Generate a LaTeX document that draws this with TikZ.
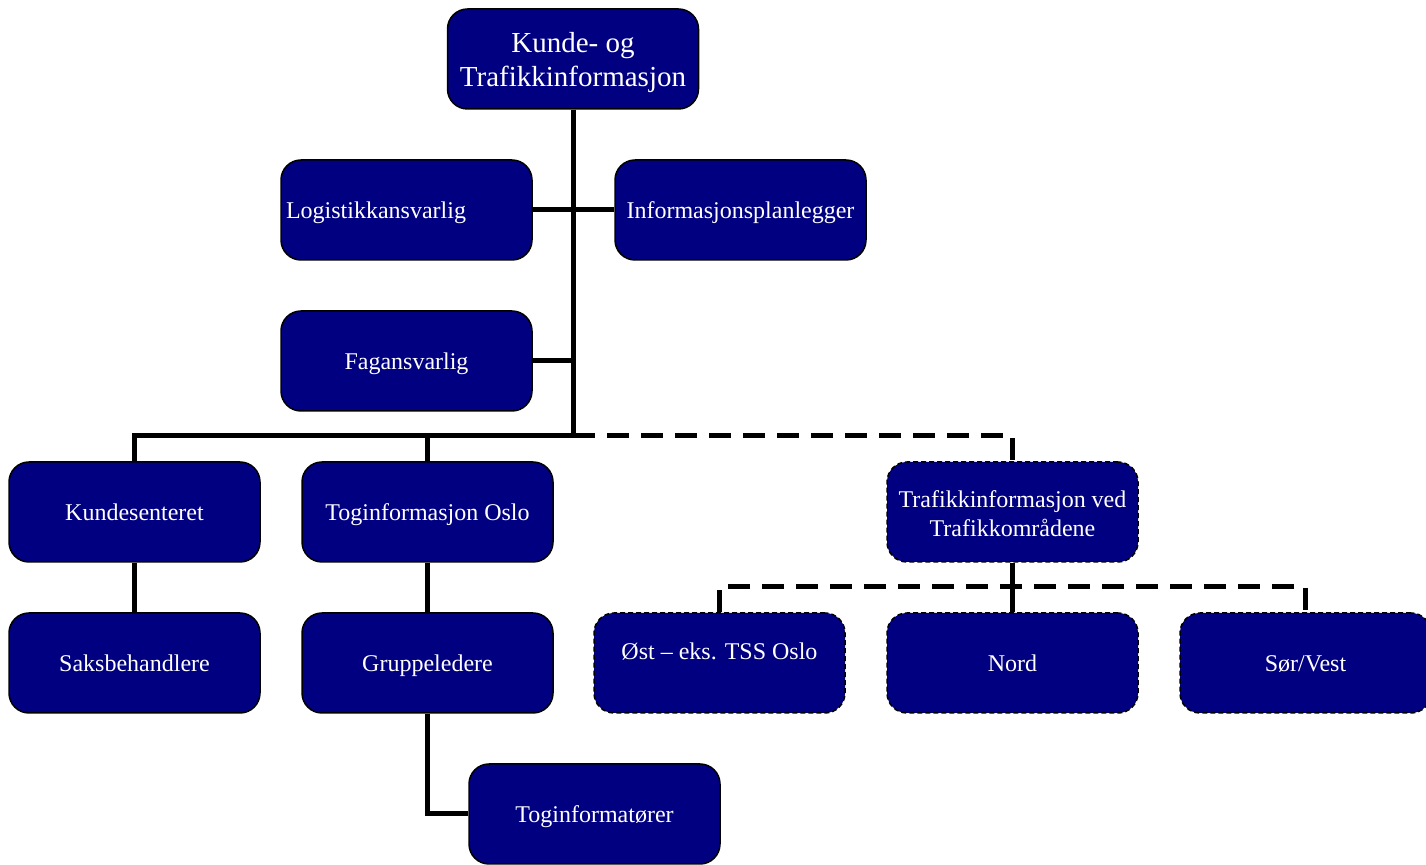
\documentclass[tikz,border=0pt]{standalone}
\usepackage{fontspec}
\setmainfont{Liberation Serif}
\usepackage{tikz}
\usetikzlibrary{positioning}

\definecolor{boxblue}{RGB}{0,0,128}

\tikzset{
	unit/.style={draw=black, line width=0.75pt, fill=boxblue, text=white, rounded corners=10pt,
		minimum width=125.5pt, minimum height=50pt, inner sep=2.5pt, font=\fontsize{12}{14.5}\selectfont, align=center},
	oneline/.style={text height=11pt, text depth=2.5pt},
	regional/.style={unit, dash pattern=on 2.5pt off 1.5pt},
	link/.style={line width=2.5pt},
	loose/.style={link, dash pattern=on 11pt off 6pt}
}

\begin{document}
\begin{tikzpicture}[x=0.5pt, y=-0.5pt]
	\useasboundingbox (0,0) rectangle (1426,865);
	\node[unit, font=\fontsize{14.5}{17.2}\selectfont] (top) at (573,59) {\rule{0pt}{13.6pt}Kunde- og\\Trafikkinformasjon};
	\node[unit, oneline, text width=120.5pt, align=left] (logi) at (406.5,210) {Logistikkansvarlig};
	\node[unit, oneline] (info) at (740.5,210) {Informasjonsplanlegger};
	\node[unit, oneline] (fag) at (406.5,361) {Fagansvarlig};
	\node[unit, oneline] (kunde) at (134.5,512) {Kundesenteret};
	\node[unit, oneline] (togosl) at (427.5,512) {Toginformasjon Oslo};
	\node[regional] (trafikk) at (1012.5,512) {\rule{0pt}{10.2pt}Trafikkinformasjon ved\\Trafikkområdene};
	\node[unit, oneline] (saks) at (134.5,663) {Saksbehandlere};
	\node[unit, oneline] (gruppe) at (427.5,663) {Gruppeledere};
	\node[regional, text height=9pt, text depth=12.5pt] (ost) at (719.5,663) {Øst – eks. TSS Oslo};
	\node[regional, oneline] (nord) at (1012.5,663) {Nord};
	\node[regional, oneline] (sor) at (1305.5,663) {Sør/Vest};
	\node[unit, oneline] (togi) at (594.5,814) {Toginformatører};
	\coordinate (hub) at (573,436);
	\coordinate (split) at (1012.5,587);
	% staff
	\draw[link] (top.south) -- (hub);
	\draw[link] (logi.east) -- (info.west);
	\draw[link] (fag.east) -- (fag.east -| hub);
	% line units
	\draw[link] (kunde.north) |- (hub);
	\draw[link] (togosl.north) -- (togosl.north |- hub);
	\draw[loose] (hub) -| (trafikk.north);
	\draw[link] (kunde.south) -- (saks.north);
	\draw[link] (togosl.south) -- (gruppe.north);
	\draw[link] (gruppe.south) |- (togi.west);
	% regions
	\draw[link] (trafikk.south) -- (nord.north);
	\draw[loose] (ost.north) -- (ost.north |- split) -| (sor.north);
\end{tikzpicture}
\end{document}
